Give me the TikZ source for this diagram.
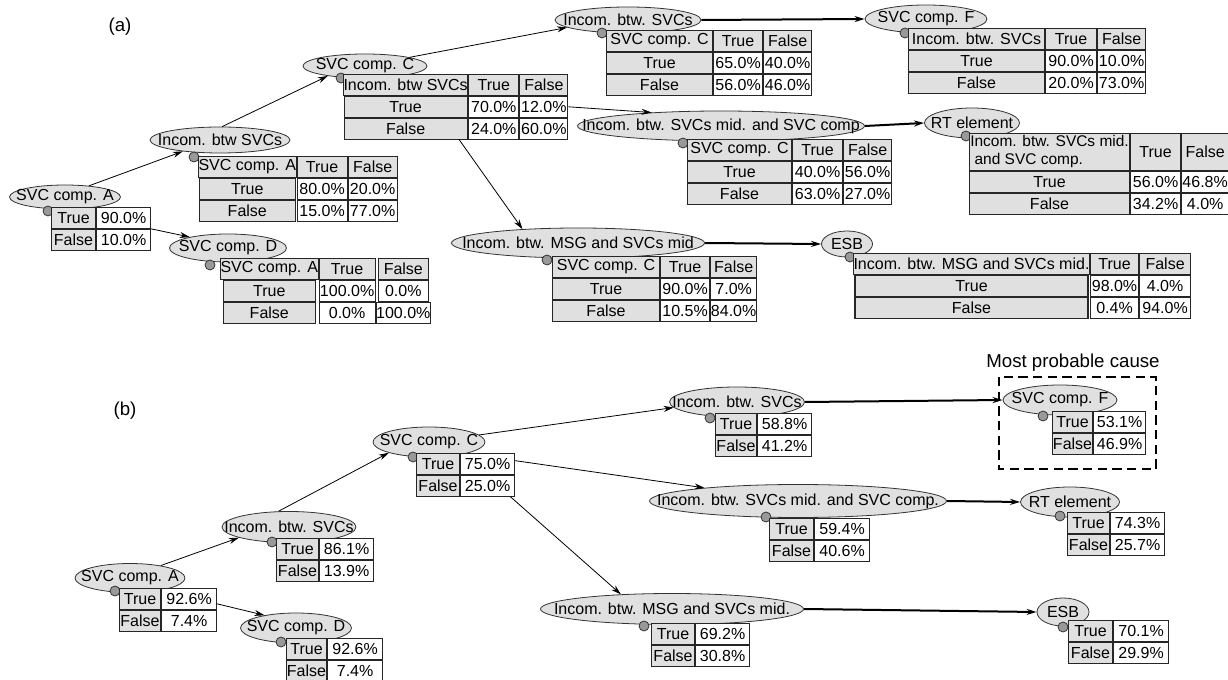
\documentclass[tikz,border=0pt]{standalone}
\usepackage{fontspec}
\setmainfont{Liberation Sans}
\usetikzlibrary{shapes.geometric,matrix,arrows.meta}

\tikzset{
  var/.style 2 args={ellipse, draw=black!80, line width=0.6pt, fill=black!12,
    inner sep=0pt, minimum width=#1*0.75pt, minimum height=#2*0.75pt},
  knob/.style={circle, draw=black!80, line width=0.6pt, fill=black!40,
    inner sep=0pt, minimum size=7.5pt},
  tab/.style={matrix of nodes, anchor=north west, inner sep=0pt, outer sep=0pt,
    column sep=0pt, row sep=0pt,
    nodes={draw=black!85, line width=0.8pt, fill=white, inner sep=0pt,
      outer sep=0pt, anchor=center, minimum height=15.6pt}},
  cpt/.style={tab, row 1/.style={nodes={fill=black!12}}},
  cw/.style n args={3}{
    column 1/.style={nodes={fill=black!12, minimum width=#1*0.75pt}},
    column 2/.style={nodes={minimum width=#2*0.75pt}},
    column 3/.style={nodes={minimum width=#3*0.75pt}}},
  cw2/.style 2 args={
    column 1/.style={nodes={fill=black!12, minimum width=#1*0.75pt}},
    column 2/.style={nodes={minimum width=#2*0.75pt}}},
  link/.style={-{Stealth[length=7.5pt,width=4.5pt]}, line width=0.6pt},
  wire/.style={link, line width=1.5pt},
  tag/.style={font=\fontsize{14}{17}\selectfont}
}

\begin{document}
\begin{tikzpicture}[x=0.75pt, y=-0.75pt, font=\fontsize{12}{14}\selectfont]
\useasboundingbox (0,0) rectangle (1228,680);
% panel labels
\node[tag] (la)   at (120,27)   {(a)};
\node[tag] (lb)   at (125,411)  {(b)};
\node[tag] (lmpc) at (1073,363) {Most probable cause};
\draw[line width=1.8pt, dash pattern=on 7pt off 4pt] (999,377) rectangle (1156,469);

% (a) variables
\node[var={111}{24}, label=center:SVC comp. A]                        (vA) at (65,197)  {};
\node[var={140}{26}, label=center:Incom. btw SVCs]                    (vB) at (220,140) {};
\node[var={124}{24}, label=center:SVC comp. C]                        (vC) at (365,66)  {};
\node[var={117}{28}, label=center:SVC comp. D]                        (vD) at (228,248) {};
\node[var={146}{26}, label=center:Incom. btw. SVCs]                   (vE) at (628,20)  {};
\node[var={122}{28}, label=center:SVC comp. F]                        (vF) at (926,19)  {};
\node[var={287}{30}, label=center:Incom. btw. SVCs mid. and SVC comp] (vG) at (721,126) {};
\node[var={95}{30},  label=center:RT element]                         (vH) at (972,123) {};
\node[var={253}{30}, label=center:Incom. btw. MSG and SVCs mid]       (vI) at (578,243) {};
\node[var={51}{26},  label=center:ESB]                                (vJ) at (847,244) {};
% (a) knobs
\node[knob] (dA) at (48,211)  {};
\node[knob] (dB) at (194,157) {};
\node[knob] (dC) at (341,78)  {};
\node[knob] (dD) at (210,265) {};
\node[knob] (dE) at (602,33)  {};
\node[knob] (dF) at (905,33)  {};
\node[knob] (dG) at (683,143) {};
\node[knob] (dH) at (966,136) {};
\node[knob] (dI) at (547,260) {};
\node[knob] (dJ) at (850,257) {};
% (a) probability tables
\matrix[tab, cw2={44}{54}] (tA) at (51,207) {
  True  & 90.0\% \\
  False & 10.0\% \\
};
\matrix[cpt, cw={96}{50}{49}] (tB) at (198,156) {
  SVC comp. A & True   & False  \\
  True        & 80.0\% & 20.0\% \\
  False       & 15.0\% & 77.0\% \\
};
\matrix[cpt, cw={123}{50}{48}] (tC) at (343,74) {
  Incom. btw SVCs & True   & False  \\
  True            & 70.0\% & 12.0\% \\
  False           & 24.0\% & 60.0\% \\
};
\matrix[cpt, cw={92}{56}{50}] (tD) at (220,258) {
  SVC comp. A & True    & False   \\
  True        & 100.0\% & 0.0\%   \\
  False       & 0.0\%   & 100.0\% \\
};
\matrix[cpt, cw={106}{49}{48}] (tE) at (606,30) {
  SVC comp. C & True   & False  \\
  True        & 65.0\% & 40.0\% \\
  False       & 56.0\% & 46.0\% \\
};
\matrix[cpt, cw={136}{51}{48}] (tF) at (908,28) {
  Incom. btw. SVCs & True   & False  \\
  True             & 90.0\% & 10.0\% \\
  False            & 20.0\% & 73.0\% \\
};
\matrix[cpt, cw={104}{50}{48}] (tG) at (687,139) {
  SVC comp. C & True   & False  \\
  True        & 40.0\% & 56.0\% \\
  False       & 63.0\% & 27.0\% \\
};
\matrix[cpt, cw={160}{50}{47}, row 1/.style={nodes={fill=black!12, minimum height=28pt}}] (tH) at (969,133) {
  {\fontsize{11.6}{13}\selectfont\begin{tabular}{@{}l@{}}Incom. btw. SVCs mid.\\\ and SVC comp.\end{tabular}} & True & False \\
  True  & 56.0\% & 46.8\% \\
  False & 34.2\% & 4.0\%  \\
};
\matrix[cpt, cw={107}{49}{46}] (tI) at (552,256) {
  SVC comp. C & True   & False  \\
  True        & 90.0\% & 7.0\%  \\
  False       & 10.5\% & 84.0\% \\
};
\matrix[cpt, cw={233}{48}{51}] (tJ) at (853,253) {
  Incom. btw. MSG and SVCs mid. & True   & False  \\
  True                          & 98.0\% & 4.0\%  \\
  False                         & 0.4\%  & 94.0\% \\
};
% (a) links
\draw[link] (vA.25)  -- (vB.197);
\draw[link] (vB.81)  -- (vC.195);
\draw[link] (tA.east) -- (vD.164);
\draw[link] (vC.11)  -- (vE.187);
\draw[link] (tC.east) -- (vG.169);
\draw[link] (tC.-84) -- (vI.166);
\draw[wire] (vE.east) -- (vF.west);
\draw[wire] (vG.east) -- (vH.west);
\draw[wire] (vI.east) -- (vJ.west);

% (b) variables
\node[var={110}{29}, label=center:SVC comp. A]                         (wA) at (130,578)  {};
\node[var={134}{31}, label=center:Incom. btw. SVCs]                    (wB) at (289,527)  {};
\node[var={112}{30}, label=center:SVC comp. C]                         (wC) at (429,442)  {};
\node[var={111}{30}, label=center:SVC comp. D]                         (wD) at (296,628)  {};
\node[var={135}{30}, label=center:Incom. btw. SVCs]                    (wE) at (737,402)  {};
\node[var={114}{30}, label=center:SVC comp. F]                         (wF) at (1060,400) {};
\node[var={297}{33}, label=center:Incom. btw. SVCs mid. and SVC comp.] (wG) at (798,501)  {};
\node[var={99}{30},  label=center:RT element]                          (wH) at (1070,502) {};
\node[var={263}{31}, label=center:Incom. btw. MSG and SVCs mid.]       (wI) at (672,609)  {};
\node[var={52}{28},  label=center:ESB]                                 (wJ) at (1063,612) {};
% (b) knobs
\node[knob] (eA) at (115,591)  {};
\node[knob] (eB) at (272,542)  {};
\node[knob] (eC) at (413,457)  {};
\node[knob] (eD) at (281,642)  {};
\node[knob] (eE) at (710,418)  {};
\node[knob] (eF) at (1043,416) {};
\node[knob] (eG) at (766,517)  {};
\node[knob] (eH) at (1060,516) {};
\node[knob] (eI) at (644,626)  {};
\node[knob] (eJ) at (1063,627) {};
% (b) beliefs
\matrix[tab, cw2={41}{55}] (uA) at (119,588)  {True & 92.6\% \\ False & 7.4\%  \\};
\matrix[tab, cw2={42}{54}] (uB) at (276,538)  {True & 86.1\% \\ False & 13.9\% \\};
\matrix[tab, cw2={43}{54}] (uC) at (416,453)  {True & 75.0\% \\ False & 25.0\% \\};
\matrix[tab, cw2={40}{55}] (uD) at (286,638)  {True & 92.6\% \\ False & 7.4\%  \\};
\matrix[tab, cw2={41}{54}] (uE) at (715,413)  {True & 58.8\% \\ False & 41.2\% \\};
\matrix[tab, cw2={40}{52}] (uF) at (1052,411) {True & 53.1\% \\ False & 46.9\% \\};
\matrix[tab, cw2={44}{55}] (uG) at (769,518)  {True & 59.4\% \\ False & 40.6\% \\};
\matrix[tab, cw2={42}{54}] (uH) at (1067,512) {True & 74.3\% \\ False & 25.7\% \\};
\matrix[tab, cw2={43}{54}] (uI) at (651,623)  {True & 69.2\% \\ False & 30.8\% \\};
\matrix[tab, cw2={44}{55}] (uJ) at (1068,620) {True & 70.1\% \\ False & 29.9\% \\};
% (b) links
\draw[link] (wA.22)  -- (wB.192);
\draw[link] (wB.124) -- (wC.195);
\draw[link] (uA.7)   -- (wD.158);
\draw[link] (wC.8)   -- (wE.185);
\draw[link] (uC.16)  -- (wG.172);
\draw[link] (uC.-26) -- (wI.164);
\draw[wire] (wE.east) -- (wF.west);
\draw[wire] (wG.east) -- (wH.west);
\draw[wire] (wI.east) -- (wJ.west);
\end{tikzpicture}
\end{document}
